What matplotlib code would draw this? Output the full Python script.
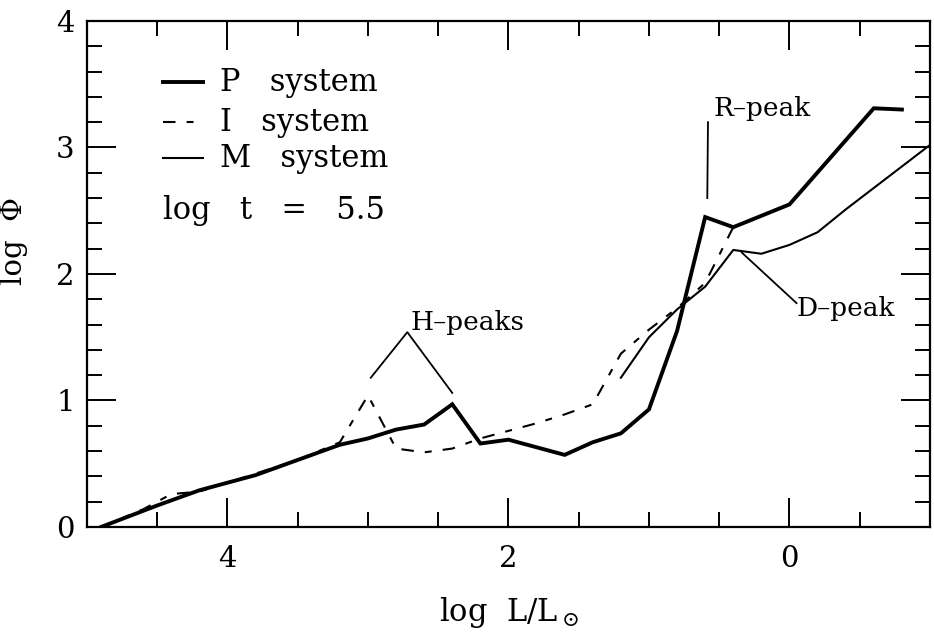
import matplotlib
matplotlib.use('Agg')
from matplotlib import pyplot as plt
from matplotlib.ticker import MultipleLocator

plt.rcParams['font.family'] = ['DejaVu Serif']
plt.rcParams['mathtext.fontset'] = 'dejavuserif'
plt.rcParams['lines.scale_dashes'] = False

# P system (thick solid)
p_x = [4.9, 4.5, 4.2, 3.8, 3.5, 3.2, 3.0, 2.8, 2.6, 2.4, 2.2, 2.0, 1.6, 1.4,
       1.2, 1.0, 0.8, 0.6, 0.4, 0.0, -0.6, -0.8]
p_y = [0.0, 0.17, 0.29, 0.41, 0.53, 0.65, 0.70, 0.77, 0.81, 0.97, 0.66, 0.69,
       0.57, 0.67, 0.74, 0.93, 1.55, 2.45, 2.37, 2.55, 3.31, 3.30]

# I system (dashed)
i_x = [4.9, 4.6, 4.4, 4.2, 4.0, 3.5, 3.2, 3.0, 2.8, 2.6, 2.4, 2.2, 2.0, 1.8,
       1.6, 1.4, 1.2, 1.0, 0.8, 0.6, 0.4, 0.0, -0.6, -0.8]
i_y = [0.0, 0.14, 0.26, 0.28, 0.35, 0.53, 0.67, 1.04, 0.62, 0.59, 0.62, 0.70,
       0.76, 0.82, 0.89, 0.97, 1.37, 1.56, 1.73, 1.93, 2.37, 2.55, 3.31, 3.30]

# M system (thin solid)
m_x = [1.2, 1.0, 0.8, 0.6, 0.4, 0.2, 0.0, -0.2, -0.4, -0.6, -0.8, -1.0]
m_y = [1.18, 1.50, 1.72, 1.90, 2.19, 2.16, 2.23, 2.33, 2.51, 2.68, 2.85, 3.02]

labels = ['P   system', 'I   system', 'M   system']

fig = plt.figure(figsize=(9.34, 6.36), dpi=100)
ax = fig.add_axes([0.0931, 0.1714, 0.9026, 0.7956])

dash = (9, 8, 5, 8)
ax.plot(p_x, p_y, color='black', lw=2.8, solid_joinstyle='miter')
ax.plot(i_x, i_y, color='black', lw=1.5, dashes=dash)
ax.plot(m_x, m_y, color='black', lw=1.5)

ax.set_xlim(5, -1)
ax.set_ylim(0, 4)
ax.xaxis.set_major_locator(MultipleLocator(2))
ax.xaxis.set_minor_locator(MultipleLocator(0.5))
ax.yaxis.set_major_locator(MultipleLocator(1))
ax.yaxis.set_minor_locator(MultipleLocator(0.2))
ax.tick_params(which='both', direction='in', top=True, right=True,
               width=1.4, colors='black', labelsize=21)
ax.tick_params(which='major', length=21)
ax.tick_params(which='minor', length=11)
ax.tick_params(axis='x', which='major', pad=13)
ax.tick_params(axis='y', which='major', pad=9)
for s in ax.spines.values():
    s.set_linewidth(1.6)

ax.set_xlabel(r'log  L/L$_\odot$', fontsize=22)
ax.set_ylabel('log  Φ', fontsize=21)
ax.xaxis.set_label_coords(0.5, -0.135)
ax.yaxis.set_label_coords(-0.07, 0.565)

# legend drawn by hand
tr = ax.transAxes
ys = [0.879, 0.800, 0.729]
styles = [dict(lw=2.8), dict(lw=1.5, dashes=dash), dict(lw=1.5)]
for yy, lab, st in zip(ys, labels, styles):
    ax.plot([0.090, 0.138], [yy, yy], color='black', transform=tr, **st)
    ax.text(0.158, yy, lab, transform=tr, fontsize=22, va='center', ha='left')
ax.text(0.090, 0.626, 'log   t   =   5.5', transform=tr, fontsize=22,
        va='center', ha='left')

# peak annotations
ax.plot([0.58, 0.585], [3.20, 2.60], color='black', lw=1.3)
ax.text(0.54, 3.31, 'R–peak', fontsize=19, va='center', ha='left')

ax.plot([0.34, -0.05], [2.17, 1.77], color='black', lw=1.3)
ax.text(-0.05, 1.73, 'D–peak', fontsize=19, va='center', ha='left')

ax.plot([2.98, 2.72, 2.40], [1.18, 1.54, 1.06], color='black', lw=1.3)
ax.text(2.70, 1.62, 'H–peaks', fontsize=19, va='center', ha='left')

fig.savefig('out.png', dpi=100)
